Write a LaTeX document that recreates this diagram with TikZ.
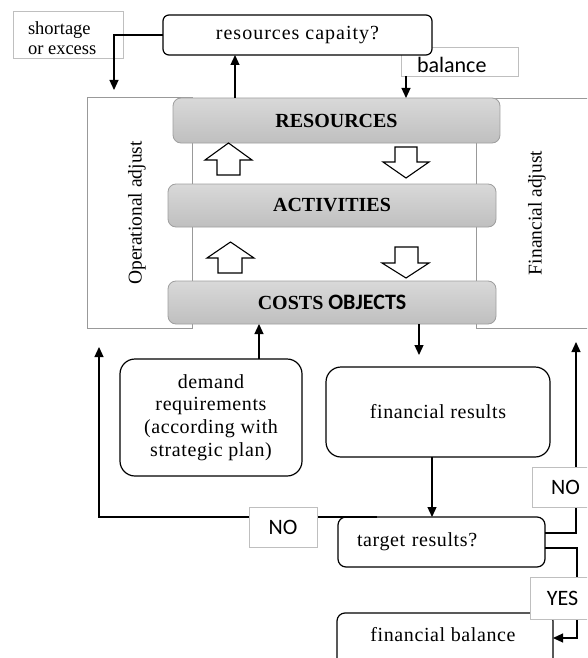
\documentclass[tikz,border=0pt]{standalone}
\usepackage{fontspec}
\setmainfont{Liberation Serif}
\setsansfont{Carlito}
\newfontfamily\boxfont[LetterSpace=3]{Liberation Serif}
\newfontfamily\capfont[LetterSpace=5]{Liberation Serif}
\usetikzlibrary{arrows.meta}
\begin{document}
\begin{tikzpicture}[x=1pt,y=-1pt,
  every node/.style={inner sep=0pt, outer sep=0pt},
  arr/.style={line width=1.2pt, -{Triangle[length=10pt,width=9pt]}},
  tbox/.style={draw, line width=1.2pt, fill=white, font=\boxfont\fontsize{20}{22.6}\selectfont},
  gbox/.style={draw=black!38, line width=0.8pt, top color=black!15, bottom color=black!25,
    rounded corners=8pt, font=\bfseries\fontsize{20}{24}\selectfont},
  lbl/.style={draw=black!25, line width=0.8pt, fill=white},
  lbltxt/.style={font=\sffamily\fontsize{22}{24}\selectfont},
  panel/.style={draw=black!40, line width=0.8pt},
  hollow/.style={draw, line width=1.1pt, fill=white, line join=miter},
  side/.style={rotate=90, font=\fontsize{19.5}{22}\selectfont}
]
\useasboundingbox (0,0) rectangle (587,658);
\clip (0,0) rectangle (587,658);

% side panels
\draw[panel] (87,97) rectangle (192,328);
\draw[panel] (476,98) rectangle (600,328);
\node[side] (opadj) at (137,213) {Operational adjust};
\node[side] (finadj) at (537,213) {Financial adjust};

% label boxes at top
\node[lbl, minimum width=110, minimum height=47] (shortbox) at (68,34.5) {};
\node[anchor=north west, align=left, font=\fontsize{18.5}{20}\selectfont] (shorttxt) at (28,21.5) {shortage\\or excess};
\node[lbl, minimum width=117, minimum height=29] (balbox) at (459.5,61.5) {};
\node[anchor=base west, lbltxt] (baltxt) at (417,72.5) {balance};

% top decision box
\node[tbox, font=\capfont\fontsize{20}{22.6}\selectfont, rounded corners=6pt, minimum width=269, minimum height=40] (cap) at (297.5,35) {resources capaity?};

% gray layer boxes
\node[gbox, minimum width=327, minimum height=45] (res) at (336.5,120.5) {RESOURCES};
\node[gbox, minimum width=328, minimum height=43] (act) at (332,205.5) {ACTIVITIES};
\node[gbox, minimum width=328, minimum height=43] (costs) at (332,302.5) {COSTS {\sffamily\fontsize{22}{24}\selectfont OBJECTS}};

% hollow arrows
\draw[hollow] (228.5,143) -- (252,160) -- (240,160) -- (240,175) -- (217,175) -- (217,160) -- (205,160) -- cycle;
\draw[hollow] (230.5,242) -- (254,258) -- (242,258) -- (242,273) -- (218,273) -- (218,258) -- (207,258) -- cycle;
\draw[hollow] (395,147) -- (417,147) -- (417,162) -- (429,162) -- (406,178) -- (383,162) -- (395,162) -- cycle;
\draw[hollow] (395,247) -- (418,247) -- (418,263) -- (429,263) -- (406,278) -- (382,263) -- (395,263) -- cycle;

% lower boxes
\node[tbox, rounded corners=15pt, minimum width=182, minimum height=117, align=center] (dem) at (211,417.5) {demand\\requirements\\(according with\\strategic plan)};
\node[tbox, rounded corners=15pt, minimum width=224, minimum height=90] (finres) at (438,412) {financial results};
\node[tbox, rounded corners=8pt, minimum width=207, minimum height=50, text width=169, align=left] (target) at (441.5,542) {target results?};
\node[tbox, rounded corners=8pt, minimum width=216, minimum height=70, anchor=north] (finbal) at (445,613) {};
\node[font=\boxfont\fontsize{20}{22.6}\selectfont] (finbaltxt) at (443,635) {financial balance};

% connectors
\coordinate (sd) at (114,90);
\draw[arr] (cap.west) -| (sd);
\coordinate (c1) at (235,0);
\draw[arr] (c1 |- res.north) -- (c1 |- cap.south);
\coordinate (c2) at (406,0);
\draw[arr] (c2 |- balbox.south) -- (c2 |- res.north);
\coordinate (c3) at (419,355);
\draw[arr] (c3 |- costs.south) -- (c3);
\coordinate (c4) at (259,0);
\draw[arr] (c4 |- dem.north) -- (c4 |- costs.south);
\coordinate (c5) at (432,0);
\draw[arr] (c5 |- finres.south) -- (c5 |- target.north);
\coordinate (noL) at (99,347);
\coordinate (c6) at (377,0);
\draw[arr] (c6 |- target.north) -| (noL);
\coordinate (noR) at (576,342);
\coordinate (c7) at (0,533);
\draw[arr] (c7 -| target.east) -| (noR);
\coordinate (c8) at (577,548);
\coordinate (c9) at (577,638);
\draw[arr] (c8 -| target.east) -- (c8) -- (c9) -- (c9 -| finbal.east);

% NO / YES labels
\node[lbl, minimum width=68, minimum height=40, lbltxt] (noLbox) at (283,527) {NO};
\node[lbl, minimum width=66, minimum height=40] (noRbox) at (565.5,487) {};
\node[lbltxt] (noRtxt) at (565.5,487.5) {NO};
\node[lbl, minimum width=66, minimum height=42] (yesbox) at (563,598) {};
\node[lbltxt] (yestxt) at (562.5,598) {YES};
\end{tikzpicture}
\end{document}
